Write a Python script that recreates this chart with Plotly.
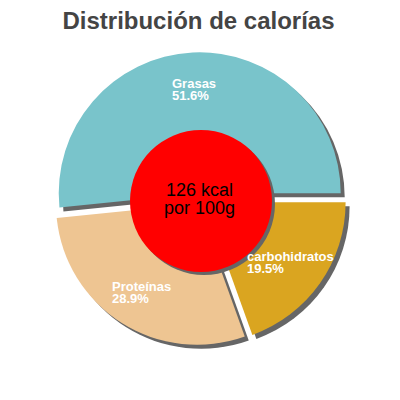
import math
import plotly.graph_objects as go

# data
labels = ["Grasas", "Proteínas", "carbohidratos"]
values = [51.6, 28.9, 19.5]
colors = ["#79C4CB", "#EEC592", "#DAA520"]
kcal_lines = ["126 kcal", "por 100g"]
title_text = "Distribución de calorías"

W, H = 400, 400
OFF = 8                    # page body margin the figure sits inside
cx, cy = 200, 199          # pie centre in window pixels
R = 141                    # slice radius in pixels
pull = 0.04
shadow = 4                 # shadow offset in pixels
font = "Liberation Sans, Arial, sans-serif"

# bold Arial advance widths (1/1000 em), used to left-align the two label lines
BOLD_W = {"%": 889, ".": 278, "G": 778, "P": 667, "a": 556, "b": 611, "c": 556,
          "d": 611, "e": 556, "h": 611, "i": 278, "í": 278, "n": 611, "o": 611,
          "r": 389, "s": 556, "t": 333}


def text_w(s, size):
    return sum(BOLD_W.get(ch, 556) for ch in s) / 1000 * size


total = sum(values)
# first slice runs counterclockwise from 3 o'clock
rot = 90 - values[0] / total * 360


def px_x(x):
    return (x - OFF) / W


def px_y(y):
    return 1 - (y - OFF) / H


half = R * (1 + pull)


def pie_domain(dx=0, dy=0):
    return dict(x=[px_x(cx - half + dx), px_x(cx + half + dx)],
                y=[px_y(cy + half + dy), px_y(cy - half + dy)])


fig = go.Figure()

# grey shadow under the slices
fig.add_trace(go.Pie(labels=labels, values=values, sort=False,
                     direction="counterclockwise", rotation=rot,
                     pull=[pull] * len(values),
                     marker=dict(colors=["#666666"] * len(values), line=dict(width=0)),
                     textinfo="none", hoverinfo="skip", showlegend=False,
                     domain=pie_domain(shadow, shadow)))

fig.add_trace(go.Pie(labels=labels, values=values, sort=False,
                     direction="counterclockwise", rotation=rot,
                     pull=[pull] * len(values),
                     marker=dict(colors=colors, line=dict(width=0)),
                     textinfo="none", showlegend=False,
                     domain=pie_domain()))

# slice labels placed along the mid angle of each slice, two tight lines each
lab_size = 13
cum = 0
for lab, v in zip(labels, values):
    mid = math.radians((cum + v / 2) / total * 360)
    cum += v
    r_lab = 0.74 * R + pull * R
    lx = cx + r_lab * math.cos(mid)
    ly = cy - r_lab * math.sin(mid)
    lines = [lab, f"{v / total * 100:.1f}%"]
    left = lx - max(text_w(s, lab_size) for s in lines) / 2
    for k, s in enumerate(lines):
        fig.add_annotation(x=px_x(left), y=px_y(ly - 6 + 12 * k),
                           xref="paper", yref="paper",
                           text=f"<b>{s}</b>", showarrow=False,
                           xanchor="left", yanchor="middle",
                           borderpad=0, borderwidth=0,
                           font=dict(family=font, size=lab_size, color="white"))

# red centre disc with its shadow
rc, ccx, ccy = 71, 201, 201
fig.add_shape(type="circle", xref="paper", yref="paper",
              x0=px_x(ccx - rc + 3), x1=px_x(ccx + rc + 3),
              y0=px_y(ccy + rc + 3), y1=px_y(ccy - rc + 3),
              fillcolor="#666666", line=dict(width=0))
fig.add_shape(type="circle", xref="paper", yref="paper",
              x0=px_x(ccx - rc), x1=px_x(ccx + rc),
              y0=px_y(ccy + rc), y1=px_y(ccy - rc),
              fillcolor="#FF0000", line=dict(width=0))
for k, s in enumerate(kcal_lines):
    fig.add_annotation(x=px_x(199.5), y=px_y(190 + 18 * k), xref="paper", yref="paper",
                       text=s, showarrow=False, borderpad=0, borderwidth=0,
                       xanchor="center", yanchor="middle",
                       font=dict(family=font, size=18, color="black"))

fig.update_layout(width=W, height=H,
                  margin=dict(l=0, r=0, t=0, b=0),
                  paper_bgcolor="white", plot_bgcolor="white",
                  title=dict(text=f"<b>{title_text}</b>", x=px_x(198.5), xanchor="center",
                             y=px_y(21), yanchor="middle", yref="container",
                             font=dict(family=font, size=24, color="#444444")))

fig.write_html("out.html")
